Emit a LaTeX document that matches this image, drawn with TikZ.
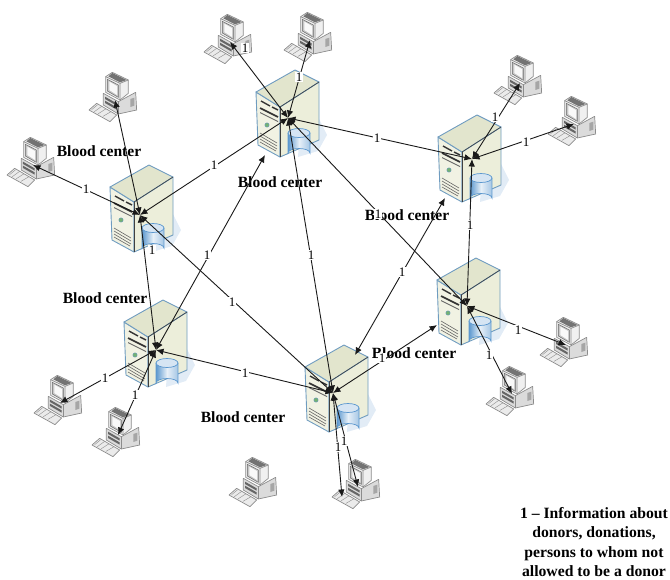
\documentclass[tikz,border=0pt]{standalone}
\usepackage{fontspec}
\setmainfont{Liberation Serif}
\usetikzlibrary{arrows.meta}
\definecolor{srvline}{HTML}{6F9CC0}
\definecolor{srvfront}{HTML}{F1F2E3}
\definecolor{srvside}{HTML}{ECEEDA}
\definecolor{srvtop}{HTML}{E2E5CD}
\definecolor{cylblue}{HTML}{5C98CF}
\definecolor{pcline}{HTML}{8C8C8C}
\tikzset{
  x=1pt,y=-1pt,
  link/.style={line width=0.9pt,draw=black!90,{Latex[length=7.5pt,width=6.5pt]}-{Latex[length=7.5pt,width=6.5pt]}},
  lab/.style={fill=white,inner sep=0.6pt,font=\fontsize{13}{13}\selectfont},
  centre/.style={font=\bfseries\fontsize{15.6}{16}\selectfont,inner sep=0pt},
  legend/.style={font=\bfseries\fontsize{15.7}{19.6}\selectfont,align=center,inner sep=0pt},
  server/.pic={
    \fill[cylblue!18] (20,20) -- (39,12) -- (47,28) -- (38,44) -- (18,50) -- cycle;
    \filldraw[draw=srvline,line width=0.9pt,fill=srvfront,line join=round] (-24,-15) -- (0,0) -- (0,50) -- (-22,38) -- cycle;
    \filldraw[draw=srvline,line width=0.9pt,fill=srvside,line join=round] (0,0) -- (39,-25) -- (39,33) -- (0,50) -- cycle;
    \filldraw[draw=srvline,line width=0.9pt,fill=srvtop,line join=round] (-24,-15) -- (15,-37) -- (39,-25) -- (0,0) -- cycle;
    \draw[black!75,line width=0.6pt] (0,0) -- (39,-25);
    \draw[black!75,line width=0.6pt] (0,0) -- (0,50);
    \draw[black!80,line width=1.4pt] (-19,-6) -- (-10,-1) (-8,0) -- (-2,3);
    \draw[black!80,line width=1.6pt] (-20,1) -- (-2,10);
    \fill[black!60] (-20,5) -- (-2,14) -- (-2,15) -- (-20,6) -- cycle;
    \filldraw[draw=srvline,fill=green!45!black!55,line width=0.4pt] (-13,18) circle (2.2);
    \draw[black!60,line width=0.6pt] (-20,26) -- (-3,36) (-20,29) -- (-3,39) (-20,32) -- (-3,42) (-20,35) -- (-4,44);
    \shade[left color=cylblue,right color=cylblue!55,middle color=cylblue!15]
      (8,26) -- (8,46) arc[start angle=180,end angle=360,x radius=11,y radius=4.5] -- (30,26) -- cycle;
    \draw[cylblue,line width=0.7pt] (8,26) -- (8,46) arc[start angle=180,end angle=360,x radius=11,y radius=4.5] -- (30,26);
    \filldraw[draw=cylblue,fill=cylblue!25,line width=0.7pt] (19,26) ellipse[x radius=11,y radius=4.5];
  },
  computer/.pic={
    \begin{scope}[shift={(-40,-31.67)},scale=1/3]
      \filldraw[draw=pcline,fill=black!8,line width=0.7pt,line join=round] (42,125) -- (65,105) -- (125,140) -- (105,160) -- cycle;
      \draw[pcline,line width=0.4pt] (50,124) -- (68,109) (58,130) -- (80,114) (70,136) -- (92,122) (84,144) -- (108,130);
      \filldraw[draw=pcline,fill=black!14,line width=0.7pt,line join=round] (85,75) -- (130,100) -- (182,72) -- (185,125) -- (130,137) -- (85,110) -- cycle;
      \draw[pcline,line width=0.7pt] (130,100) -- (130,137);
      \fill[black!60] (90,85) -- (125,105) -- (125,112) -- (90,92) -- cycle;
      \fill[black!60] (90,97) -- (125,117) -- (125,124) -- (90,104) -- cycle;
      \fill[black!35] (166,92) -- (178,88) -- (178,112) -- (166,116) -- cycle;
      \filldraw[draw=pcline,fill=black!6,line width=0.7pt,line join=round] (92,25) -- (112,12) -- (160,35) -- (160,75) -- (135,95) -- (92,72) -- cycle;
      \draw[pcline,line width=0.7pt] (92,25) -- (135,45) -- (160,35) (135,45) -- (135,95);
      \fill[black!55] (112,14) -- (155,35) -- (135,42) -- (100,24) -- cycle;
      \filldraw[draw=black!60,fill=black!22,line width=0.5pt] (97,33) -- (130,50) -- (130,87) -- (97,68) -- cycle;
      \fill[white!85!black!15] (103,40) -- (126,53) -- (126,80) -- (103,65) -- cycle;
    \end{scope}
  }
}
\begin{document}
\begin{tikzpicture}
\useasboundingbox (0,0) rectangle (670,579);
\pic at (280,107) {server};
\pic at (462,152) {server};
\pic at (461,295) {server};
\pic at (329,382) {server};
\pic at (148,337) {server};
\pic at (134,202) {server};
\coordinate (ha) at (288,118);
\coordinate (haw) at (265,155);
\coordinate (hb) at (472,159);
\coordinate (hbw) at (445,198);
\coordinate (hc) at (467,306);
\coordinate (hcw) at (437,325);
\coordinate (hd) at (333,393);
\coordinate (hdn) at (355,355);
\coordinate (he) at (156,350);
\coordinate (hf) at (140,215);
\foreach \n/\px/\py in {pa/230/42,pb/310/40,pc/520/83,pd/574/124,pe/566/345,pf/512/394,pg/358/487,ph/255/485,pi/118/435,pj/60/403,pk/33/165,pl/115/100}{
  \coordinate (\n) at (\px,\py);
  \pic at (\n) {computer};
}
\coordinate (pgk) at (342,497);
\node[centre] (ta) at (99,151) {Blood center};
\node[centre] (tb) at (280,182) {Blood center};
\node[centre] (tc) at (407,215) {Blood center};
\node[centre] (td) at (105,298) {Blood center};
\node[centre] (te) at (414,353) {Blood center};
\node[centre] (tf) at (243,417) {Blood center};
\node[legend] (leg) at (594,542) {1 – Information about\\donors, donations,\\persons to whom not\\allowed to be a donor};
\draw[link] (ha) -- (hb);
\draw[link] (ha) -- (hc);
\draw[link] (ha) -- (hd);
\draw[link] (haw) -- (he);
\draw[link] (ha) -- (hf);
\draw[link] (hb) -- (hc);
\draw[link] (hbw) -- (hdn);
\draw[link] (hcw) -- (hd);
\draw[link] (hd) -- (he);
\draw[link] (hd) -- (hf);
\draw[link] (he) -- (hf);
\draw[link] (ha) -- (pa);
\draw[link] (ha) -- (pb);
\draw[link] (hb) -- (pc);
\draw[link] (hb) -- (pd);
\draw[link] (hc) -- (pe);
\draw[link] (hc) -- (pf);
\draw[link] (hd) -- (pg);
\draw[link] (hd) -- (pgk);
\draw[link] (he) -- (pi);
\draw[link] (he) -- (pj);
\draw[link] (hf) -- (pk);
\draw[link] (hf) -- (pl);
\foreach \n/\px/\py in {a/245/48,b/299/77,c/377/138,d/378/214,e/311/255,f/207/255,g/214/165,h/470/225,i/402/272,j/382/358,k/245/373,l/232/302,m/152/250,n/495/117,o/526/142,p/518/330,q/489/355,r/338/447,s/344/441,t/135/395,u/105/378,v/86/189}{
  \node[lab] (l\n) at (\px,\py) {1};
}
\end{tikzpicture}
\end{document}
